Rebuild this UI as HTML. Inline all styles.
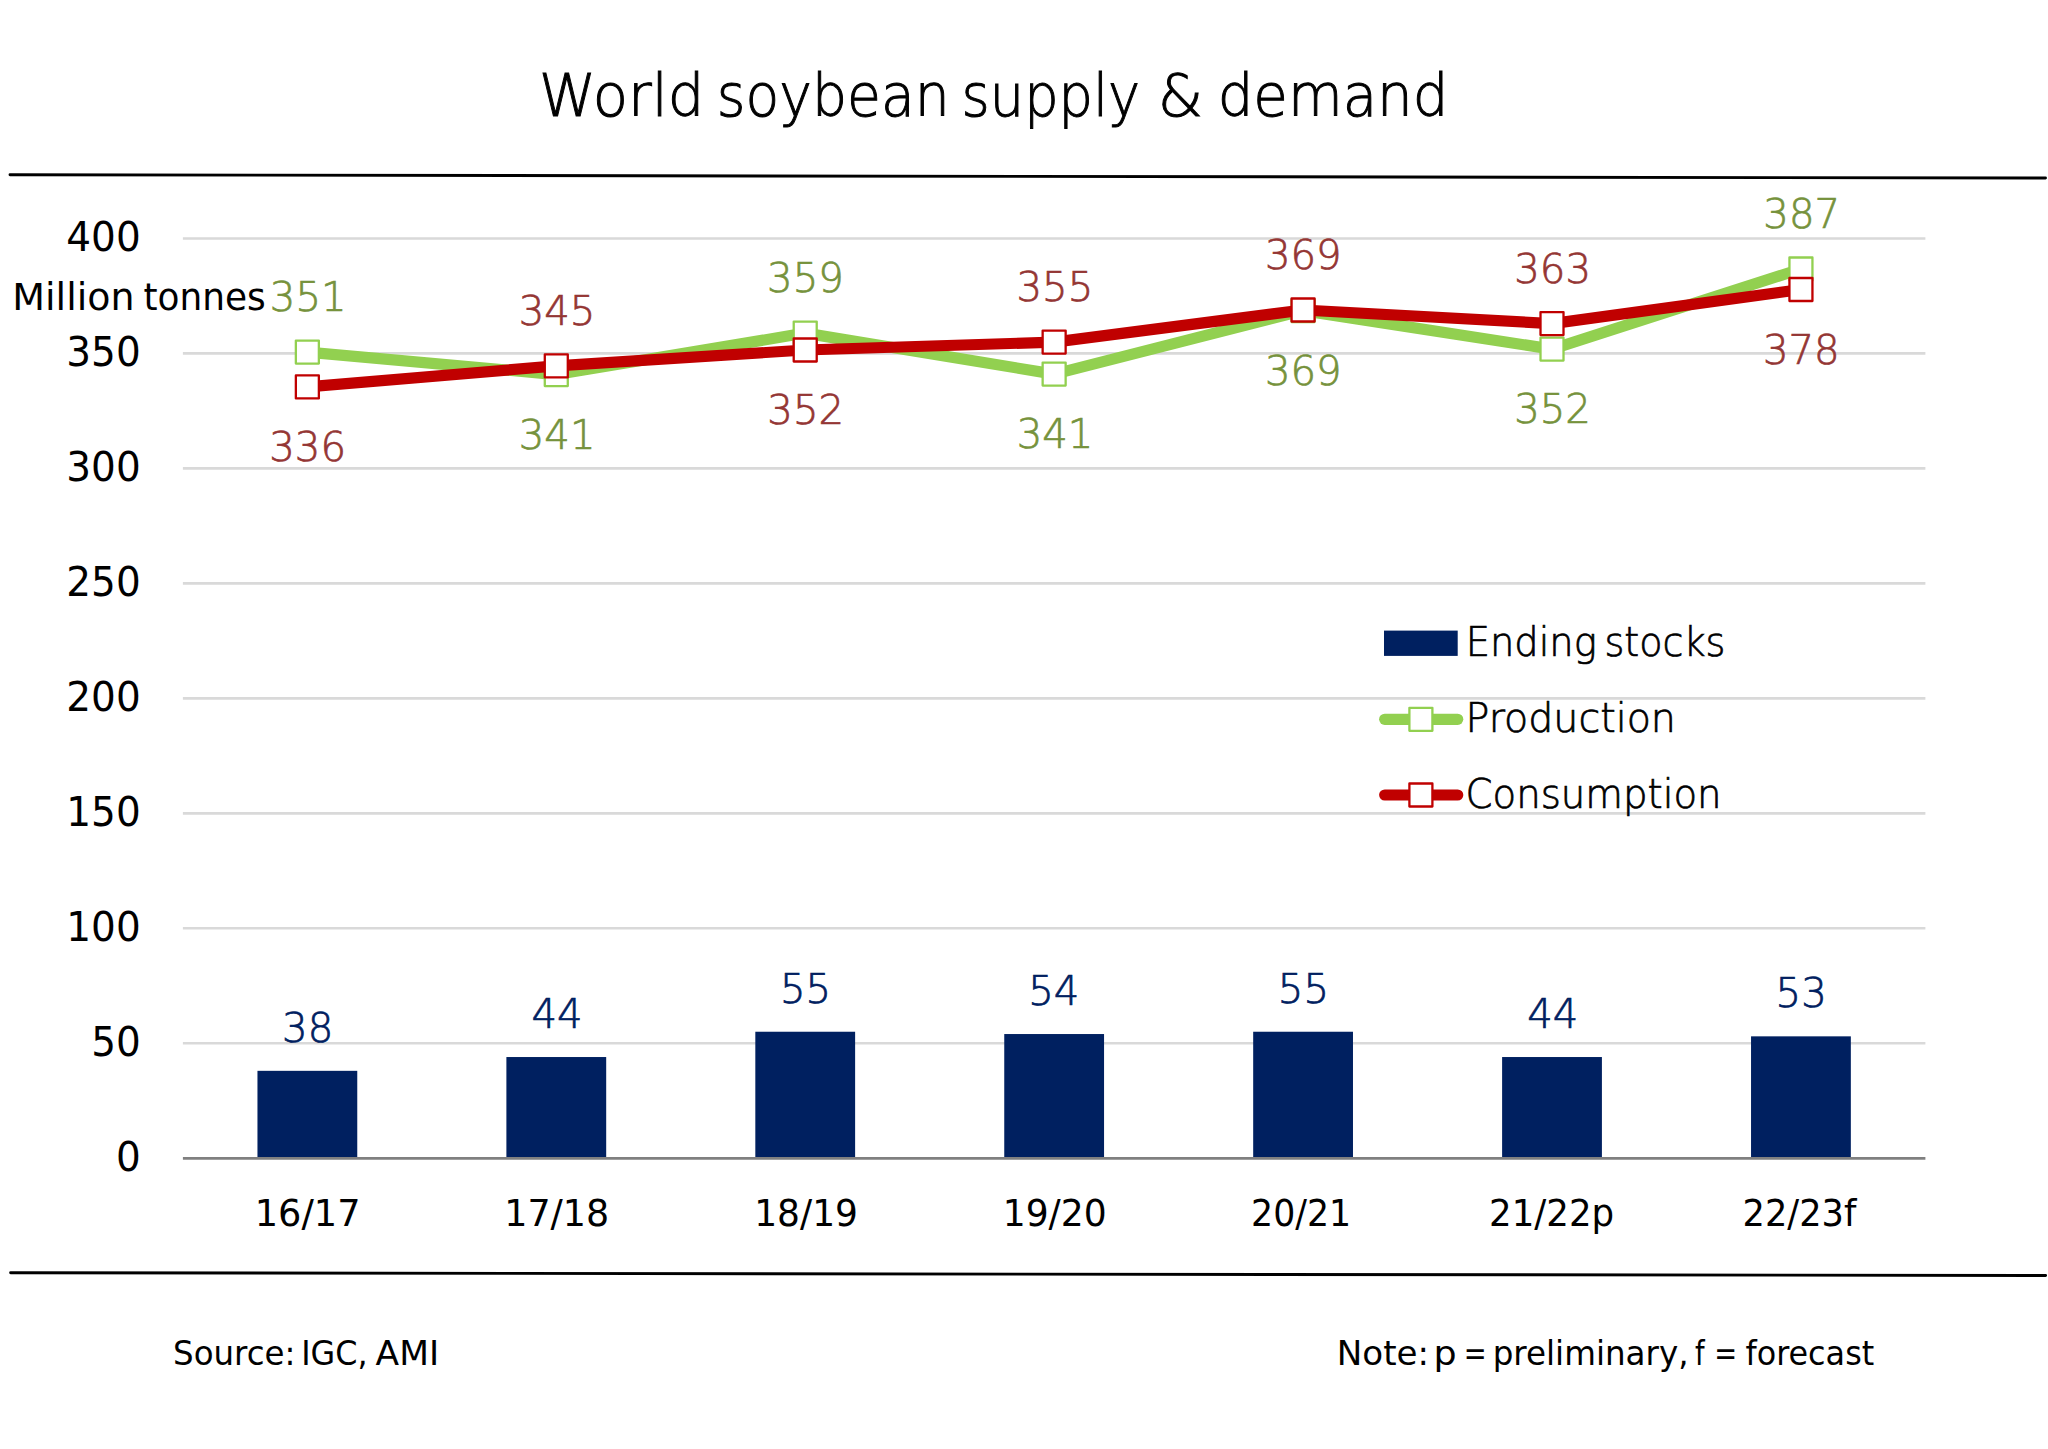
<!DOCTYPE html>
<html lang="en"><head><meta charset="utf-8"><title>World soybean supply &amp; demand</title>
<style>
html,body{margin:0;padding:0;background:#fff}
svg{display:block}
text.l{font-family:'DejaVu Sans Light','DejaVu Sans','Liberation Sans',sans-serif;font-weight:200}
text.r{font-family:'DejaVu Sans','Liberation Sans',sans-serif;font-weight:400}
</style></head><body>
<svg width="2048" height="1449" viewBox="0 0 2048 1449" role="img" aria-label="World soybean supply and demand chart">
<rect width="2048" height="1449" fill="#fff"/>
<line x1="182.9" x2="1925.4" y1="1043.24" y2="1043.24" stroke="#d9d9d9" stroke-width="2.7"/>
<line x1="182.9" x2="1925.4" y1="928.27" y2="928.27" stroke="#d9d9d9" stroke-width="2.7"/>
<line x1="182.9" x2="1925.4" y1="813.31" y2="813.31" stroke="#d9d9d9" stroke-width="2.7"/>
<line x1="182.9" x2="1925.4" y1="698.34" y2="698.34" stroke="#d9d9d9" stroke-width="2.7"/>
<line x1="182.9" x2="1925.4" y1="583.38" y2="583.38" stroke="#d9d9d9" stroke-width="2.7"/>
<line x1="182.9" x2="1925.4" y1="468.41" y2="468.41" stroke="#d9d9d9" stroke-width="2.7"/>
<line x1="182.9" x2="1925.4" y1="353.45" y2="353.45" stroke="#d9d9d9" stroke-width="2.7"/>
<line x1="182.9" x2="1925.4" y1="238.48" y2="238.48" stroke="#d9d9d9" stroke-width="2.7"/>
<rect x="257.46" y="1070.83" width="99.8" height="86.37" fill="#002060"/>
<rect x="506.39" y="1057.03" width="99.8" height="100.17" fill="#002060"/>
<rect x="755.32" y="1031.74" width="99.8" height="125.46" fill="#002060"/>
<rect x="1004.25" y="1034.04" width="99.8" height="123.16" fill="#002060"/>
<rect x="1253.18" y="1031.74" width="99.8" height="125.46" fill="#002060"/>
<rect x="1502.11" y="1057.03" width="99.8" height="100.17" fill="#002060"/>
<rect x="1751.04" y="1036.34" width="99.8" height="120.86" fill="#002060"/>
<line x1="182.9" x2="1925.4" y1="1158.3" y2="1158.3" stroke="#808080" stroke-width="2.7"/>
<polyline points="307.36,352.1 556.29,374.6 805.22,333.1 1054.15,374.1 1303.08,310.6 1552.01,349.1 1800.94,269" fill="none" stroke="#92d050" stroke-width="11.2" stroke-linejoin="round" stroke-linecap="round"/>
<rect x="295.86" y="340.6" width="23.0" height="23.0" fill="#fff" stroke="#92d050" stroke-width="2.3" stroke-linejoin="round"/><rect x="544.79" y="363.1" width="23.0" height="23.0" fill="#fff" stroke="#92d050" stroke-width="2.3" stroke-linejoin="round"/><rect x="793.72" y="321.6" width="23.0" height="23.0" fill="#fff" stroke="#92d050" stroke-width="2.3" stroke-linejoin="round"/><rect x="1042.65" y="362.6" width="23.0" height="23.0" fill="#fff" stroke="#92d050" stroke-width="2.3" stroke-linejoin="round"/><rect x="1291.58" y="299.1" width="23.0" height="23.0" fill="#fff" stroke="#92d050" stroke-width="2.3" stroke-linejoin="round"/><rect x="1540.51" y="337.6" width="23.0" height="23.0" fill="#fff" stroke="#92d050" stroke-width="2.3" stroke-linejoin="round"/><rect x="1789.44" y="257.5" width="23.0" height="23.0" fill="#fff" stroke="#92d050" stroke-width="2.3" stroke-linejoin="round"/>
<polyline points="307.36,386.9 556.29,365.9 805.22,350 1054.15,342.1 1303.08,310 1552.01,323.6 1800.94,289.5" fill="none" stroke="#c00000" stroke-width="11.2" stroke-linejoin="round" stroke-linecap="round"/>
<rect x="295.86" y="375.4" width="23.0" height="23.0" fill="#fff" stroke="#c00000" stroke-width="2.3" stroke-linejoin="round"/><rect x="544.79" y="354.4" width="23.0" height="23.0" fill="#fff" stroke="#c00000" stroke-width="2.3" stroke-linejoin="round"/><rect x="793.72" y="338.5" width="23.0" height="23.0" fill="#fff" stroke="#c00000" stroke-width="2.3" stroke-linejoin="round"/><rect x="1042.65" y="330.6" width="23.0" height="23.0" fill="#fff" stroke="#c00000" stroke-width="2.3" stroke-linejoin="round"/><rect x="1291.58" y="298.5" width="23.0" height="23.0" fill="#fff" stroke="#c00000" stroke-width="2.3" stroke-linejoin="round"/><rect x="1540.51" y="312.1" width="23.0" height="23.0" fill="#fff" stroke="#c00000" stroke-width="2.3" stroke-linejoin="round"/><rect x="1789.44" y="278" width="23.0" height="23.0" fill="#fff" stroke="#c00000" stroke-width="2.3" stroke-linejoin="round"/>
<rect x="1384" y="630.6" width="73.7" height="25.3" fill="#002060"/>
<line x1="1384.7" x2="1457.7" y1="719.3" y2="719.3" stroke="#92d050" stroke-width="11.2" stroke-linecap="round"/>
<rect x="1409.4" y="707.8" width="23.0" height="23.0" fill="#fff" stroke="#92d050" stroke-width="2.3" stroke-linejoin="round"/>
<line x1="1384.7" x2="1457.7" y1="795" y2="795" stroke="#c00000" stroke-width="11.2" stroke-linecap="round"/>
<rect x="1409.4" y="783.5" width="23.0" height="23.0" fill="#fff" stroke="#c00000" stroke-width="2.3" stroke-linejoin="round"/>
<line x1="10" y1="174.75" x2="2045.5" y2="178.05" stroke="#000" stroke-width="2.9" stroke-linecap="round"/>
<line x1="10.6" y1="1272.7" x2="2045.6" y2="1275.5" stroke="#000" stroke-width="2.9" stroke-linecap="round"/>
<text class="l" y="115.9" font-size="59" fill="#000" stroke="#000" stroke-width="1.0"><tspan x="539.08" textLength="165.2" lengthAdjust="spacingAndGlyphs">World</tspan> <tspan x="716.86" textLength="232.77" lengthAdjust="spacingAndGlyphs">soybean</tspan> <tspan x="961.62" textLength="178.56" lengthAdjust="spacingAndGlyphs">supply</tspan> <tspan x="1157.77" textLength="45.31" lengthAdjust="spacingAndGlyphs">&amp;</tspan> <tspan x="1217.65" textLength="230.79" lengthAdjust="spacingAndGlyphs">demand</tspan></text>
<text class="r" transform="translate(116 1170.6) scale(0.9550 1)" font-size="40.8" fill="#000">0</text>
<text class="r" transform="translate(91.17 1055.64) scale(0.9550 1)" font-size="40.8" fill="#000">50</text>
<text class="r" transform="translate(66.34 940.67) scale(0.9550 1)" font-size="40.8" fill="#000">100</text>
<text class="r" transform="translate(66.34 825.71) scale(0.9550 1)" font-size="40.8" fill="#000">150</text>
<text class="r" transform="translate(66.34 710.74) scale(0.9550 1)" font-size="40.8" fill="#000">200</text>
<text class="r" transform="translate(66.34 595.77) scale(0.9550 1)" font-size="40.8" fill="#000">250</text>
<text class="r" transform="translate(66.34 480.81) scale(0.9550 1)" font-size="40.8" fill="#000">300</text>
<text class="r" transform="translate(66.34 365.85) scale(0.9550 1)" font-size="40.8" fill="#000">350</text>
<text class="r" transform="translate(66.34 250.88) scale(0.9550 1)" font-size="40.8" fill="#000">400</text>
<text class="r" y="309.8" font-size="37" fill="#000"><tspan x="12.36" textLength="122.11" lengthAdjust="spacingAndGlyphs">Million</tspan> <tspan x="143.53" textLength="122.26" lengthAdjust="spacingAndGlyphs">tonnes</tspan></text>
<text class="r" transform="translate(254.73 1225.9) scale(0.9930 1)" font-size="37" fill="#000">16/17</text>
<text class="r" transform="translate(504.26 1225.9) scale(0.9840 1)" font-size="37" fill="#000">17/18</text>
<text class="r" transform="translate(754.2 1225.9) scale(0.9740 1)" font-size="37" fill="#000">18/19</text>
<text class="r" transform="translate(1002.7 1225.9) scale(0.9746 1)" font-size="37" fill="#000">19/20</text>
<text class="r" transform="translate(1251.12 1225.9) scale(0.9383 1)" font-size="37" fill="#000">20/21</text>
<text class="r" transform="translate(1489.05 1225.9) scale(0.9621 1)" font-size="37" fill="#000">21/22p</text>
<text class="r" transform="translate(1742.48 1225.9) scale(0.9515 1)" font-size="37" fill="#000">22/23f</text>
<text class="l" transform="translate(282.11 1041.83) scale(1.0000 1)" font-size="40.2" fill="#002060" stroke="#002060" stroke-width="0.7">38</text>
<text class="l" transform="translate(531.42 1028.03) scale(1.0000 1)" font-size="40.2" fill="#002060" stroke="#002060" stroke-width="0.7">44</text>
<text class="l" transform="translate(779.97 1002.74) scale(1.0000 1)" font-size="40.2" fill="#002060" stroke="#002060" stroke-width="0.7">55</text>
<text class="l" transform="translate(1028.28 1005.04) scale(1.0000 1)" font-size="40.2" fill="#002060" stroke="#002060" stroke-width="0.7">54</text>
<text class="l" transform="translate(1277.83 1002.74) scale(1.0000 1)" font-size="40.2" fill="#002060" stroke="#002060" stroke-width="0.7">55</text>
<text class="l" transform="translate(1527.13 1028.03) scale(1.0000 1)" font-size="40.2" fill="#002060" stroke="#002060" stroke-width="0.7">44</text>
<text class="l" transform="translate(1775.56 1007.34) scale(1.0000 1)" font-size="40.2" fill="#002060" stroke="#002060" stroke-width="0.7">53</text>
<text class="l" transform="translate(269.86 311.1) scale(1.0000 1)" font-size="40.2" fill="#76923c" stroke="#76923c" stroke-width="0.7">351</text>
<text class="l" transform="translate(269.24 460.9) scale(1.0000 1)" font-size="40.2" fill="#943634" stroke="#943634" stroke-width="0.7">336</text>
<text class="l" transform="translate(518.79 448.6) scale(1.0000 1)" font-size="40.2" fill="#76923c" stroke="#76923c" stroke-width="0.7">341</text>
<text class="l" transform="translate(518.67 324.9) scale(1.0000 1)" font-size="40.2" fill="#943634" stroke="#943634" stroke-width="0.7">345</text>
<text class="l" transform="translate(767.1 292.1) scale(1.0000 1)" font-size="40.2" fill="#76923c" stroke="#76923c" stroke-width="0.7">359</text>
<text class="l" transform="translate(767.35 424) scale(1.0000 1)" font-size="40.2" fill="#943634" stroke="#943634" stroke-width="0.7">352</text>
<text class="l" transform="translate(1016.65 448.1) scale(1.0000 1)" font-size="40.2" fill="#76923c" stroke="#76923c" stroke-width="0.7">341</text>
<text class="l" transform="translate(1016.53 301.1) scale(1.0000 1)" font-size="40.2" fill="#943634" stroke="#943634" stroke-width="0.7">355</text>
<text class="l" transform="translate(1264.95 384.6) scale(1.0000 1)" font-size="40.2" fill="#76923c" stroke="#76923c" stroke-width="0.7">369</text>
<text class="l" transform="translate(1264.95 269) scale(1.0000 1)" font-size="40.2" fill="#943634" stroke="#943634" stroke-width="0.7">369</text>
<text class="l" transform="translate(1514.13 423.1) scale(1.0000 1)" font-size="40.2" fill="#76923c" stroke="#76923c" stroke-width="0.7">352</text>
<text class="l" transform="translate(1514.26 282.6) scale(1.0000 1)" font-size="40.2" fill="#943634" stroke="#943634" stroke-width="0.7">363</text>
<text class="l" transform="translate(1763.31 228) scale(1.0000 1)" font-size="40.2" fill="#76923c" stroke="#76923c" stroke-width="0.7">387</text>
<text class="l" transform="translate(1762.94 363.5) scale(1.0000 1)" font-size="40.2" fill="#943634" stroke="#943634" stroke-width="0.7">378</text>
<text class="l" y="655.8" font-size="40.2" fill="#000" stroke="#000" stroke-width="0.7"><tspan x="1465.7" textLength="131.05" lengthAdjust="spacingAndGlyphs">Ending</tspan> <tspan x="1604.5" textLength="120.86" lengthAdjust="spacingAndGlyphs">stocks</tspan></text>
<text class="l" transform="translate(1465.57 732) scale(0.9837 1)" font-size="40.2" fill="#000" stroke="#000" stroke-width="0.7">Production</text>
<text class="l" transform="translate(1465.62 808) scale(0.9616 1)" font-size="40.2" fill="#000" stroke="#000" stroke-width="0.7">Consumption</text>
<text class="r" y="1364.9" font-size="32.8" fill="#000"><tspan x="173.07" textLength="122.33" lengthAdjust="spacingAndGlyphs">Source:</tspan> <tspan x="301.14" textLength="66.44" lengthAdjust="spacingAndGlyphs">IGC,</tspan> <tspan x="375.64" textLength="63.48" lengthAdjust="spacingAndGlyphs">AMI</tspan></text>
<text class="r" y="1364.9" font-size="32.8" fill="#000"><tspan x="1336.76" textLength="92.24" lengthAdjust="spacingAndGlyphs">Note:</tspan> <tspan x="1433.53" textLength="23.14" lengthAdjust="spacingAndGlyphs">p</tspan> <tspan x="1463.69" textLength="22.91" lengthAdjust="spacingAndGlyphs">=</tspan> <tspan x="1492.68" textLength="195.91" lengthAdjust="spacingAndGlyphs">preliminary,</tspan> <tspan x="1694.98" textLength="9.61" lengthAdjust="spacingAndGlyphs">f</tspan> <tspan x="1714.22" textLength="22.91" lengthAdjust="spacingAndGlyphs">=</tspan> <tspan x="1745.47" textLength="128.74" lengthAdjust="spacingAndGlyphs">forecast</tspan></text>
</svg>
</body></html>
